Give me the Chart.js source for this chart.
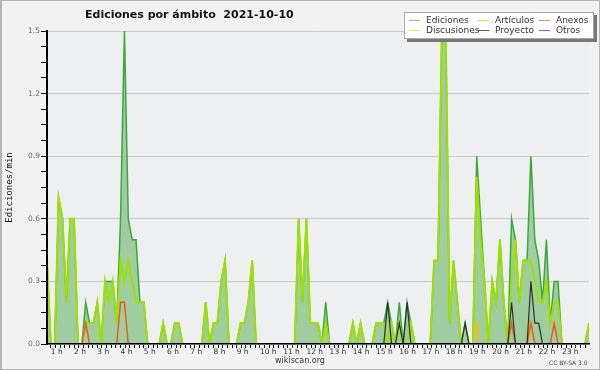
<!DOCTYPE html>
<html lang="es">
<head>
<meta charset="utf-8">
<title>Ediciones por ámbito 2021-10-10</title>
<script src="https://cdn.jsdelivr.net/npm/chart.js@4.4.1/dist/chart.umd.min.js"></script>
<style>
    html, body { margin: 0; padding: 0; background: #f1f1f1; }
    #wrap { position: relative; width: 600px; height: 370px; overflow: hidden; font-family: "DejaVu Sans", sans-serif; }
    #wrap canvas { position: absolute; left: 0; top: 0; }
    #frame { position: absolute; left: 0; top: 0; width: 600px; height: 370px; box-sizing: border-box;
             border: 1px solid #b4b4b4; border-left-width: 2px; pointer-events: none; }
    #title { position: absolute; left: 85px; top: 8px; font: bold 11px "DejaVu Sans"; line-height: 13px;
             color: #111; white-space: pre; }
    #legend { position: absolute; left: 404px; top: 12px; width: 190px; height: 27px; box-sizing: border-box;
              background: #fff; border: 1px solid #a8a8a8; box-shadow: 3px 3px 0 #777; }
    .item { position: absolute; font-size: 9px; line-height: 10px; color: #333; white-space: nowrap; }
    .item i { display: inline-block; width: 11px; height: 1px; vertical-align: middle; margin-right: 6px; }
    #site { position: absolute; left: 0; width: 600px; top: 356px; text-align: center; font-size: 8px; line-height: 10px; color: #333; }
    #lic { position: absolute; left: 549px; top: 359px; font-size: 6px; line-height: 8px; color: #444; }
</style>
</head>
<body>
<div id="wrap">
    <canvas id="editsChart" width="600" height="370"></canvas>
    <div id="title">Ediciones por ámbito  2021-10-10</div>
    <div id="legend"></div>
    <div id="site">wikiscan.org</div>
    <div id="lic">CC BY-SA 3.0</div>
    <div id="frame"></div>
</div>
<script>
// one value every 10 minutes, first one at 00:50 (edits per minute)
const startMinute = 50;
const stepMinutes = 10;

const ediciones = [
    0.4, 0, 0, 0.7, 0.6, 0.2, 0.6, 0.6, 0, 0, 0.2, 0.1,
    0.1, 0.2, 0, 0.3, 0.3, 0.3, 0.1, 0.6, 1.5, 0.6, 0.5, 0.5,
    0.2, 0.2, 0, 0, 0, 0, 0.1, 0, 0, 0.1, 0.1, 0,
    0, 0, 0, 0, 0, 0.2, 0, 0.1, 0.1, 0.3, 0.4, 0,
    0, 0, 0.1, 0.1, 0.2, 0.4, 0, 0, 0, 0, 0, 0,
    0, 0, 0, 0, 0, 0.6, 0.2, 0.6, 0.1, 0.1, 0.1, 0,
    0.2, 0, 0, 0, 0, 0, 0, 0.1, 0, 0.1, 0, 0,
    0, 0.1, 0.1, 0.1, 0.2, 0.1, 0, 0.2, 0, 0.2, 0.1, 0,
    0, 0, 0, 0, 0.4, 0.4, 1.5, 1.5, 0.1, 0.4, 0.2, 0,
    0.1, 0, 0, 0.9, 0.6, 0.3, 0, 0.3, 0.2, 0.5, 0.2, 0,
    0.6, 0.5, 0.2, 0.4, 0.4, 0.9, 0.5, 0.4, 0.2, 0.5, 0.1, 0.3,
    0.3, 0, 0, 0, 0, 0, 0, 0, 0.1
];

const articulos = [
    0.4, 0, 0, 0.7, 0.6, 0.2, 0.6, 0.6, 0, 0, 0.1, 0.1,
    0.1, 0.2, 0, 0.3, 0.2, 0.3, 0.1, 0.4, 0.3, 0.4, 0.3, 0.2,
    0.2, 0.2, 0, 0, 0, 0, 0.1, 0, 0, 0.1, 0.1, 0,
    0, 0, 0, 0, 0, 0.2, 0, 0.1, 0.1, 0.3, 0.4, 0,
    0, 0, 0.1, 0.1, 0.2, 0.4, 0, 0, 0, 0, 0, 0,
    0, 0, 0, 0, 0, 0.6, 0.2, 0.6, 0.1, 0.1, 0.1, 0,
    0.1, 0, 0, 0, 0, 0, 0, 0.1, 0, 0.1, 0, 0,
    0, 0.1, 0.1, 0.1, 0, 0.1, 0, 0.1, 0, 0, 0.1, 0,
    0, 0, 0, 0, 0.4, 0.4, 1.5, 1.5, 0.1, 0.4, 0.2, 0,
    0, 0, 0, 0.8, 0.5, 0.3, 0, 0.3, 0.2, 0.5, 0.2, 0,
    0.3, 0.5, 0.2, 0.4, 0.4, 0.4, 0.3, 0.2, 0.2, 0.3, 0.1, 0.2,
    0.2, 0, 0, 0, 0, 0, 0, 0, 0.1
];

const anexos = [
    0, 0, 0, 0, 0, 0, 0, 0, 0, 0, 0.1, 0,
    0, 0, 0, 0, 0, 0, 0, 0.2, 0.2, 0, 0, 0,
    0, 0, 0, 0, 0, 0, 0, 0, 0, 0, 0, 0,
    0, 0, 0, 0, 0, 0, 0, 0, 0, 0, 0, 0,
    0, 0, 0, 0, 0, 0, 0, 0, 0, 0, 0, 0,
    0, 0, 0, 0, 0, 0, 0, 0, 0, 0, 0, 0,
    0, 0, 0, 0, 0, 0, 0, 0, 0, 0, 0, 0,
    0, 0, 0, 0, 0, 0, 0, 0, 0, 0, 0, 0,
    0, 0, 0, 0, 0, 0, 0, 0, 0, 0, 0, 0,
    0, 0, 0, 0, 0, 0, 0, 0, 0, 0, 0, 0,
    0.1, 0, 0, 0, 0, 0.1, 0, 0, 0, 0, 0, 0.1,
    0, 0, 0, 0, 0, 0, 0, 0, 0
];

const discusiones = [
    0, 0, 0, 0, 0, 0, 0, 0, 0, 0, 0, 0,
    0, 0, 0, 0, 0, 0, 0, 0, 0, 0, 0, 0,
    0, 0, 0, 0, 0, 0, 0, 0, 0, 0, 0, 0,
    0, 0, 0, 0, 0, 0, 0, 0, 0, 0, 0, 0,
    0, 0, 0, 0, 0, 0, 0, 0, 0, 0, 0, 0,
    0, 0, 0, 0, 0, 0, 0, 0, 0, 0, 0, 0,
    0, 0, 0, 0, 0, 0, 0, 0, 0, 0, 0, 0,
    0, 0, 0, 0, 0, 0, 0, 0, 0, 0, 0, 0,
    0, 0, 0, 0, 0, 0, 0, 0, 0, 0, 0, 0,
    0, 0, 0, 0.1, 0, 0, 0, 0, 0, 0, 0, 0,
    0, 0, 0, 0, 0, 0.1, 0, 0, 0, 0, 0, 0,
    0, 0, 0, 0, 0, 0, 0, 0, 0
];

const proyecto = [
    0, 0, 0, 0, 0, 0, 0, 0, 0, 0, 0, 0,
    0, 0, 0, 0, 0, 0, 0, 0, 0, 0, 0, 0,
    0, 0, 0, 0, 0, 0, 0, 0, 0, 0, 0, 0,
    0, 0, 0, 0, 0, 0, 0, 0, 0, 0, 0, 0,
    0, 0, 0, 0, 0, 0, 0, 0, 0, 0, 0, 0,
    0, 0, 0, 0, 0, 0, 0, 0, 0, 0, 0, 0,
    0, 0, 0, 0, 0, 0, 0, 0, 0, 0, 0, 0,
    0, 0, 0, 0, 0.2, 0, 0, 0.1, 0, 0.2, 0, 0,
    0, 0, 0, 0, 0, 0, 0, 0, 0, 0, 0, 0,
    0.1, 0, 0, 0, 0, 0, 0, 0, 0, 0, 0, 0,
    0.2, 0, 0, 0, 0, 0.3, 0.1, 0.1, 0, 0, 0, 0,
    0, 0, 0, 0, 0, 0, 0, 0, 0
];

const otros = [
    0, 0, 0, 0, 0, 0, 0, 0, 0, 0, 0, 0,
    0, 0, 0, 0, 0, 0, 0, 0, 0, 0, 0, 0,
    0, 0, 0, 0, 0, 0, 0, 0, 0, 0, 0, 0,
    0, 0, 0, 0, 0, 0, 0, 0, 0, 0, 0, 0,
    0, 0, 0, 0, 0, 0, 0, 0, 0, 0, 0, 0,
    0, 0, 0, 0, 0, 0, 0, 0, 0, 0, 0, 0,
    0, 0, 0, 0, 0, 0, 0, 0, 0, 0, 0, 0,
    0, 0, 0, 0, 0, 0, 0, 0, 0, 0, 0, 0,
    0, 0, 0, 0, 0, 0, 0, 0, 0, 0, 0, 0,
    0, 0, 0, 0, 0, 0, 0, 0, 0, 0, 0, 0,
    0, 0, 0, 0, 0, 0, 0, 0, 0, 0, 0, 0,
    0, 0, 0, 0, 0, 0, 0, 0, 0
];

const hourLabels = ['1 h', '2 h', '3 h', '4 h', '5 h', '6 h', '7 h', '8 h', '9 h', '10 h', '11 h', '12 h',
    '13 h', '14 h', '15 h', '16 h', '17 h', '18 h', '19 h', '20 h', '21 h', '22 h', '23 h'];

const series = [
    { name: 'Ediciones',   data: ediciones,   line: '#3aa83a', legend: '#88cc88', width: 1.5, order: 6 },
    { name: 'Artículos',   data: articulos,   line: '#9fe000', legend: '#ccee44', width: 2,   order: 5 },
    { name: 'Anexos',      data: anexos,      line: '#ee5a1c', legend: '#ff8855', width: 1.5, order: 3 },
    { name: 'Discusiones', data: discusiones, line: '#f2c000', legend: '#ffd855', width: 1.5, order: 4 },
    { name: 'Proyecto',    data: proyecto,    line: '#2e2e2e', legend: '#555555', width: 1.2, order: 1 },
    { name: 'Otros',       data: otros,       line: '#8833ee', legend: '#9955ee', width: 1.2, order: 2 }
];

// legend (drawn as html, 3 columns x 2 rows like the original)
const legendSlots = [[4, 2], [73, 2], [134, 2], [4, 12], [73, 12], [134, 12]];
const legendOrder = ['Ediciones', 'Artículos', 'Anexos', 'Discusiones', 'Proyecto', 'Otros'];
const legendEl = document.getElementById('legend');
legendOrder.forEach((name, i) => {
    const s = series.find(x => x.name === name);
    const div = document.createElement('div');
    div.className = 'item';
    div.style.left = legendSlots[i][0] + 'px';
    div.style.top = legendSlots[i][1] + 'px';
    div.innerHTML = '<i style="background:' + s.legend + '"></i>' + name;
    legendEl.appendChild(div);
});

function toPoints(values) {
    return values.map((v, i) => ({ x: (startMinute + i * stepMinutes) / 60, y: v }));
}

const isMajorY = v => Math.abs(v / 0.3 - Math.round(v / 0.3)) < 1e-6;

const plotBackground = {
    id: 'plotBackground',
    beforeDraw(chart) {
        const { ctx, chartArea: a } = chart;
        ctx.save();
        ctx.fillStyle = '#f2f2f2';
        ctx.fillRect(0, 0, chart.width, chart.height);
        ctx.fillStyle = '#eeeff1';
        ctx.fillRect(a.left, a.top, a.right - a.left, a.bottom - a.top);
        ctx.restore();
    }
};

const tickFont = { family: "'DejaVu Sans', sans-serif", size: 7.5 };

new Chart(document.getElementById('editsChart'), {
    type: 'line',
    data: {
        datasets: series.map((s, i) => ({
            label: s.name,
            data: toPoints(s.data),
            borderColor: s.line,
            borderWidth: s.width,
            backgroundColor: i === 0 ? '#a0cda0' : s.line,
            fill: i === 0 ? 'origin' : false,
            pointRadius: 0,
            tension: 0,
            order: s.order
        }))
    },
    options: {
        responsive: false,
        animation: false,
        events: [],
        layout: { padding: { left: 0, right: 11, top: 31, bottom: 0 } },
        plugins: {
            legend: { display: false },
            tooltip: { enabled: false }
        },
        scales: {
            x: {
                type: 'linear',
                min: startMinute / 60,
                max: (startMinute + (ediciones.length - 1) * stepMinutes) / 60,
                afterFit: scale => { scale.height = 26; },
                afterBuildTicks: scale => {
                    const ticks = [];
                    for (let k = 5; k <= 120; k++) ticks.push({ value: k / 5 });
                    scale.ticks = ticks;
                },
                border: { color: '#000', width: 1.5, z: 1 },
                grid: { drawOnChartArea: false, tickColor: '#000', tickLength: 4, tickWidth: 1 },
                ticks: {
                    autoSkip: false,
                    maxRotation: 0,
                    minRotation: 0,
                    align: 'start',
                    padding: 0,
                    color: '#333',
                    font: tickFont,
                    callback: v => {
                        const k = Math.round(v * 5);
                        if (k % 5 !== 0) return '';
                        const h = k / 5;
                        return h >= 1 && h <= hourLabels.length ? hourLabels[h - 1] : '';
                    }
                }
            },
            y: {
                min: 0,
                max: 1.5,
                afterFit: scale => { scale.width = 47; },
                afterBuildTicks: scale => {
                    const ticks = [];
                    for (let k = 0; k <= 20; k++) ticks.push({ value: k * 0.075 });
                    scale.ticks = ticks;
                },
                border: { color: '#000', width: 2, z: 1 },
                grid: {
                    color: ctx => (ctx.tick && isMajorY(ctx.tick.value)) ? '#c9c9c9' : 'rgba(0,0,0,0)',
                    tickColor: '#000',
                    tickLength: 6,
                    lineWidth: 1
                },
                ticks: {
                    autoSkip: false,
                    padding: 1,
                    color: '#666',
                    font: tickFont,
                    callback: v => isMajorY(v) ? v.toFixed(1) : ''
                },
                title: {
                    display: true,
                    text: 'Ediciones/min',
                    color: '#111',
                    font: { family: "'DejaVu Sans Mono', monospace", size: 9 },
                    padding: { top: 4.5, bottom: 0 }
                }
            }
        }
    },
    plugins: [plotBackground]
});
</script>
</body>
</html>
